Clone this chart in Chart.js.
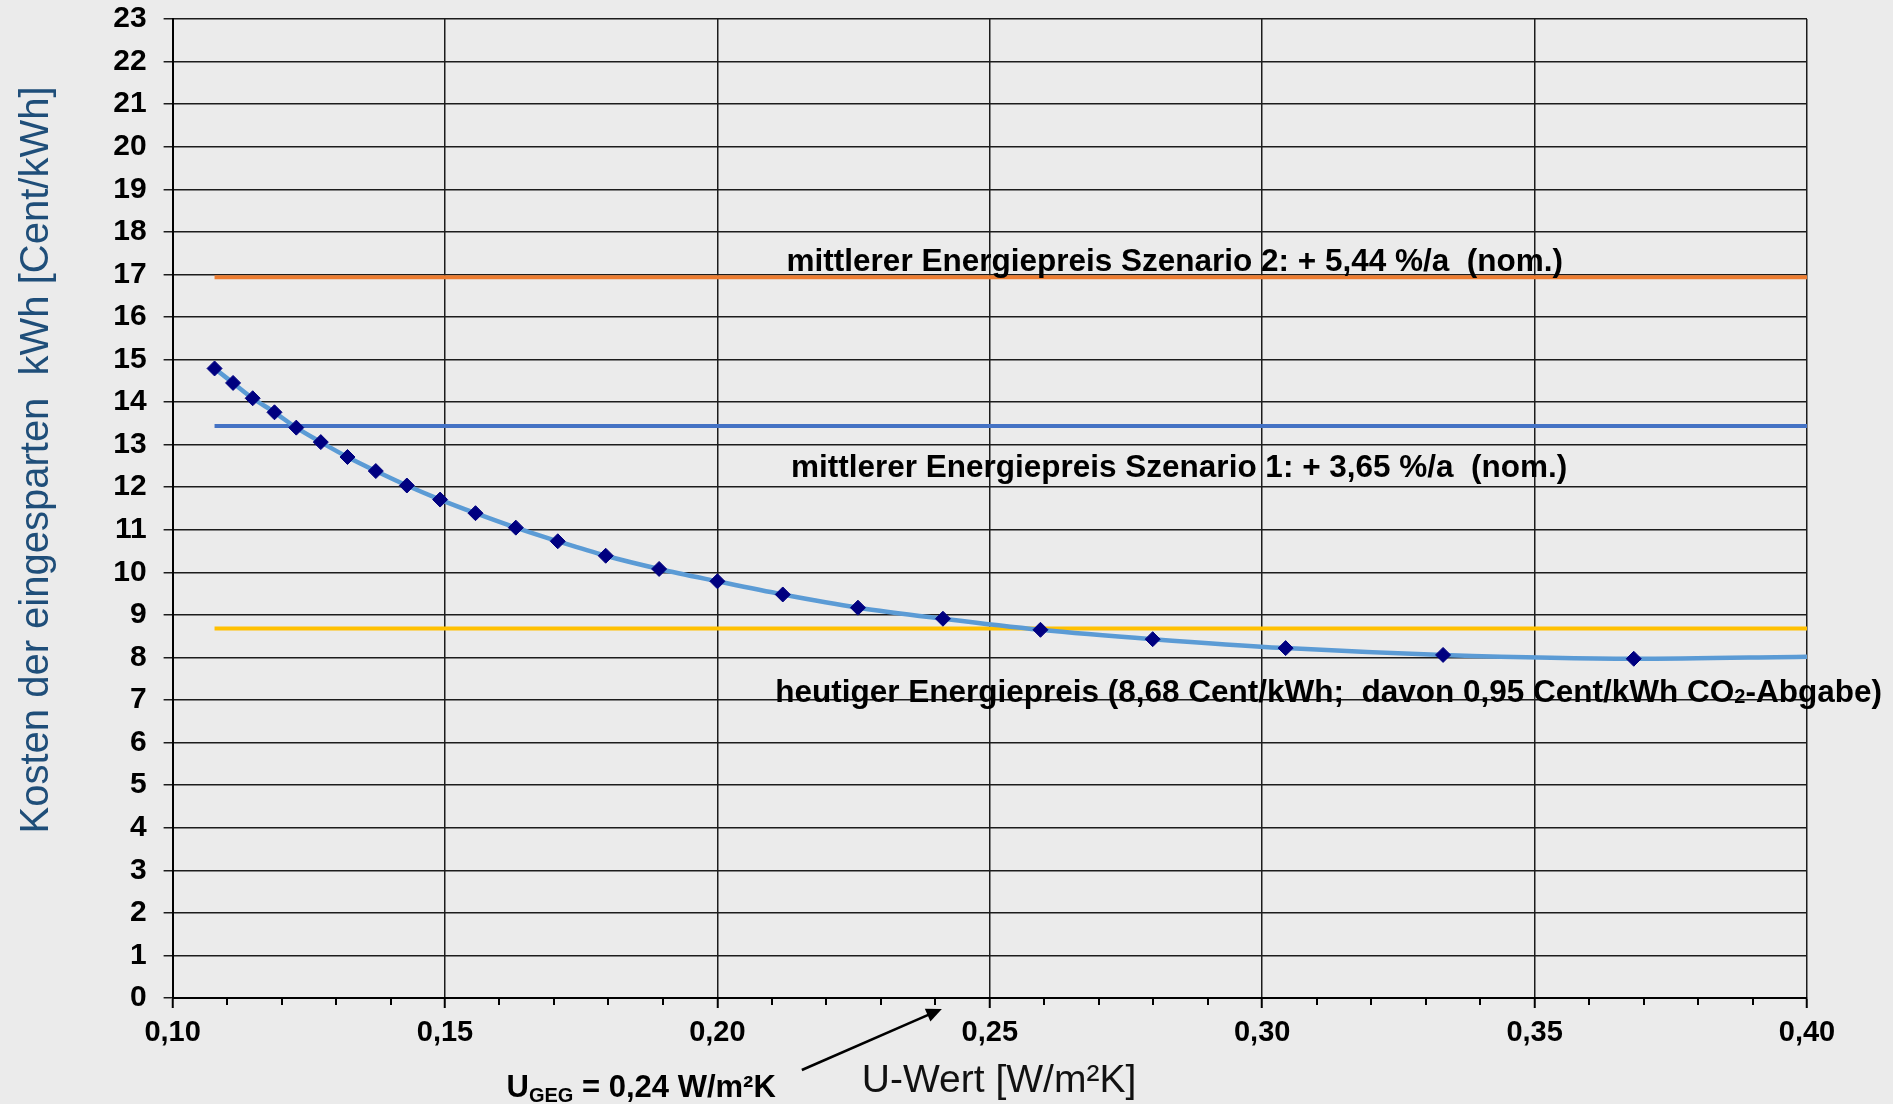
<!DOCTYPE html>
<html>
<head>
<meta charset="utf-8">
<script src="https://cdn.jsdelivr.net/npm/chart.js@4.4.1/dist/chart.umd.min.js"></script>
<style>
  html, body { margin: 0; padding: 0; background: #ebebeb; }
  canvas { display: block; }
</style>
</head>
<body>
<canvas id="chart" width="1893" height="1104"></canvas>
<script>
// U-Wert [W/m²K] and cost of the saved kWh [Cent/kWh]
const U_VALUES = [0.1077, 0.1111, 0.1147, 0.1187, 0.1227, 0.1272, 0.1321, 0.1373,
  0.1430, 0.1491, 0.1556, 0.1630, 0.1707, 0.1795, 0.1893, 0.2000, 0.2120, 0.2258,
  0.2414, 0.2593, 0.2799, 0.3043, 0.3332, 0.3682];
const COSTS = [14.79, 14.45, 14.09, 13.76, 13.40, 13.06, 12.71, 12.38,
  12.04, 11.71, 11.39, 11.05, 10.73, 10.39, 10.08, 9.79, 9.48, 9.17,
  8.91, 8.65, 8.43, 8.22, 8.06, 7.97];
// curve runs on to the right edge without a marker
const CURVE_END_U = 0.40;
const CURVE_END_COST = 8.02;

// energy price levels
const PRICE_SZENARIO_2 = 16.93;
const PRICE_SZENARIO_1 = 13.44;
const PRICE_TODAY = 8.68;

const X_TICKS = [0.10, 0.15, 0.20, 0.25, 0.30, 0.35, 0.40];
const X_MIN = 0.10;
const X_MAX = 0.40;
const X_MINOR_STEP = 0.01;
const Y_MIN = 0;
const Y_MAX = 23;

const FONT = "'Liberation Sans', Arial, sans-serif";
const GRID = "#1c1c1c";

const isMajor = (v) => X_TICKS.some((t) => Math.abs(t - v) < 1e-6);
const deComma = (v) => v.toFixed(2).replace(".", ",");

const curveData = U_VALUES.map((u, i) => ({ x: u, y: COSTS[i] }));
curveData.push({ x: CURVE_END_U, y: CURVE_END_COST });
const curveRadius = curveData.map((p, i) => (i < U_VALUES.length ? 7.5 : 0));

const levelLine = (value) => [
  { x: U_VALUES[0], y: value },
  { x: X_MAX, y: value },
];

const LABELS = [
  { x: 0.2127, y: 17.08, parts: [{ t: "mittlerer Energiepreis Szenario 2: + 5,44 %/a  (nom.)" }] },
  { x: 0.2135, y: 12.25, parts: [{ t: "mittlerer Energiepreis Szenario 1: + 3,65 %/a  (nom.)" }] },
  {
    x: 0.2106, y: 6.96,
    parts: [
      { t: "heutiger Energiepreis (8,68 Cent/kWh;  davon 0,95 Cent/kWh CO" },
      { t: "2", sub: true },
      { t: "-Abgabe)" },
    ],
  },
];

const drawParts = (ctx, parts, x, y, size, subSize, subDy) => {
  let cx = x;
  parts.forEach((p) => {
    ctx.font = `bold ${p.sub ? subSize : size}px ${FONT}`;
    ctx.fillText(p.t, cx, y + (p.sub ? subDy : 0));
    cx += ctx.measureText(p.t).width;
  });
};

const minorTicks = {
  id: "minorTicks",
  afterDraw(chart) {
    const { ctx, scales: { x }, chartArea } = chart;
    ctx.save();
    ctx.strokeStyle = "#000";
    ctx.lineWidth = 2;
    for (let i = 0; i <= Math.round((X_MAX - X_MIN) / X_MINOR_STEP); i += 1) {
      const v = X_MIN + i * X_MINOR_STEP;
      if (isMajor(v)) continue;
      const px = Math.round(x.getPixelForValue(v));
      ctx.beginPath();
      ctx.moveTo(px, chartArea.bottom);
      ctx.lineTo(px, chartArea.bottom + 7);
      ctx.stroke();
    }
    ctx.restore();
  },
};

const annotations = {
  id: "annotations",
  afterDraw(chart) {
    const { ctx, scales: { x, y }, chartArea } = chart;
    ctx.save();
    ctx.fillStyle = "#000";
    ctx.textAlign = "left";
    ctx.textBaseline = "alphabetic";

    LABELS.forEach((l) => {
      drawParts(ctx, l.parts, x.getPixelForValue(l.x), y.getPixelForValue(l.y), 31.5, 20, 1);
    });

    // U_GEG marker below the axis
    drawParts(ctx, [{ t: "U" }, { t: "GEG", sub: true }, { t: " = 0,24 W/m²K" }],
      x.getPixelForValue(0.1613), chartArea.bottom + 99, 31, 20, 5);

    const x0 = x.getPixelForValue(0.2155);
    const y0 = chartArea.bottom + 72;
    const x1 = x.getPixelForValue(0.2412);
    const y1 = chartArea.bottom + 11;
    const ang = Math.atan2(y1 - y0, x1 - x0);
    const head = 17;
    ctx.strokeStyle = "#000";
    ctx.lineWidth = 2.5;
    ctx.beginPath();
    ctx.moveTo(x0, y0);
    ctx.lineTo(x1 - Math.cos(ang) * head * 0.8, y1 - Math.sin(ang) * head * 0.8);
    ctx.stroke();
    ctx.beginPath();
    ctx.moveTo(x1, y1);
    ctx.lineTo(x1 - head * Math.cos(ang - 0.42), y1 - head * Math.sin(ang - 0.42));
    ctx.lineTo(x1 - head * Math.cos(ang + 0.42), y1 - head * Math.sin(ang + 0.42));
    ctx.closePath();
    ctx.fill();

    // axis titles
    ctx.textAlign = "center";
    ctx.fillStyle = "#111";
    ctx.font = `39px ${FONT}`;
    ctx.fillText("U-Wert [W/m²K]", x.getPixelForValue(0.2517), chartArea.bottom + 94);

    ctx.translate(48, y.getPixelForValue(12.64));
    ctx.rotate(-Math.PI / 2);
    ctx.fillStyle = "#1f4e79";
    ctx.font = `40px ${FONT}`;
    ctx.fillText("Kosten der eingesparten  kWh [Cent/kWh]", 0, 0);
    ctx.restore();
  },
};

new Chart(document.getElementById("chart"), {
  type: "line",
  data: {
    datasets: [
      {
        data: curveData,
        borderColor: "#5b9bd5",
        borderWidth: 4.5,
        cubicInterpolationMode: "monotone",
        pointStyle: "rectRot",
        pointRadius: curveRadius,
        pointBackgroundColor: "#000080",
        pointBorderColor: "#000080",
        pointBorderWidth: 1,
      },
      { data: levelLine(PRICE_SZENARIO_2), borderColor: "#ed7d31", borderWidth: 4, pointRadius: 0 },
      { data: levelLine(PRICE_SZENARIO_1), borderColor: "#4472c4", borderWidth: 4, pointRadius: 0 },
      { data: levelLine(PRICE_TODAY), borderColor: "#ffc000", borderWidth: 4, pointRadius: 0 },
    ],
  },
  options: {
    responsive: false,
    animation: false,
    devicePixelRatio: 1,
    layout: { padding: { top: 19, right: 86, left: 0, bottom: 0 } },
    plugins: { legend: { display: false }, tooltip: { enabled: false } },
    scales: {
      x: {
        type: "linear",
        min: X_MIN,
        max: X_MAX,
        afterBuildTicks: (scale) => {
          scale.ticks = X_TICKS.map((v) => ({ value: v }));
        },
        afterFit: (scale) => {
          scale.height = 106;
        },
        border: { display: true, color: "#000", width: 2 },
        grid: { color: GRID, lineWidth: 1.5, tickLength: 10, tickColor: "#000", tickWidth: 2 },
        ticks: {
          autoSkip: false,
          maxRotation: 0,
          padding: 8,
          color: "#000",
          font: { family: FONT, size: 29, weight: "bold" },
          callback: (v) => deComma(v),
        },
      },
      y: {
        min: Y_MIN,
        max: Y_MAX,
        afterFit: (scale) => {
          scale.width = 172.6;
          scale.paddingTop = 0;
          scale.paddingBottom = 0;
        },
        border: { display: true, color: "#000", width: 2 },
        grid: { color: GRID, lineWidth: 1.5, tickLength: 9, tickColor: GRID },
        ticks: {
          stepSize: 1,
          padding: 17,
          color: "#000",
          font: { family: FONT, size: 30, weight: "bold" },
        },
      },
    },
  },
  plugins: [minorTicks, annotations],
});
</script>
</body>
</html>
